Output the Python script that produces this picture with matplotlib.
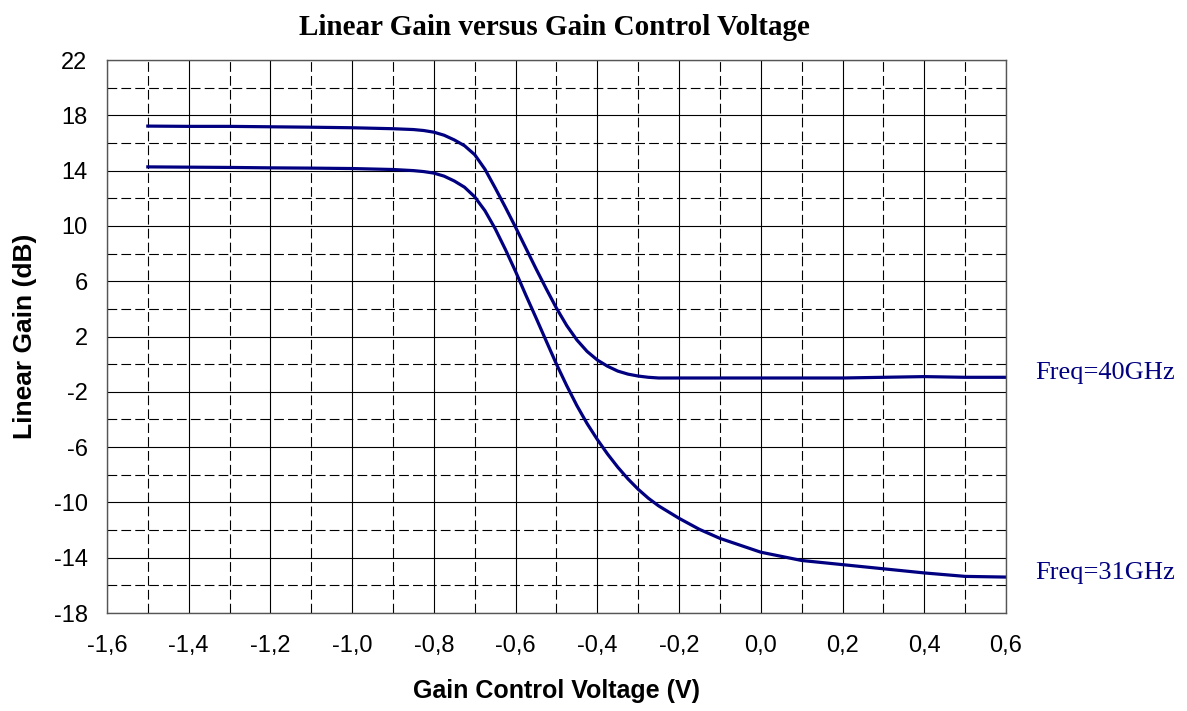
import matplotlib
matplotlib.use("Agg")
import matplotlib.pyplot as plt
from matplotlib.ticker import FixedLocator, MultipleLocator, FuncFormatter

# gain control voltage (V)
volts = [-1.5, -1.4, -1.3, -1.2, -1.1, -1.0, -0.9, -0.85, -0.825, -0.8, -0.775, -0.75,
         -0.725, -0.7, -0.675, -0.65, -0.625, -0.6, -0.575, -0.55, -0.525, -0.5, -0.475,
         -0.45, -0.425, -0.4, -0.375, -0.35, -0.325, -0.3, -0.275, -0.25, -0.2, -0.15,
         -0.1, 0.0, 0.1, 0.2, 0.3, 0.4, 0.5, 0.6]
# linear gain (dB)
gain_40 = [17.22, 17.2, 17.2, 17.17, 17.14, 17.1, 17.03, 16.97, 16.9, 16.78, 16.56, 16.22,
           15.8, 15.15, 14.1, 12.75, 11.35, 9.9, 8.4, 6.9, 5.45, 4.05, 2.8,
           1.75, 0.92, 0.3, -0.15, -0.5, -0.72, -0.86, -0.95, -1.0, -1.0, -1.0,
           -1.0, -1.0, -1.0, -1.0, -0.95, -0.9, -0.95, -0.95]
gain_31 = [14.27, 14.25, 14.23, 14.2, 14.18, 14.15, 14.08, 14.0, 13.93, 13.82, 13.6, 13.25,
           12.8, 12.1, 11.1, 9.8, 8.3, 6.7, 5.0, 3.35, 1.67, 0.0, -1.55,
           -3.0, -4.3, -5.45, -6.5, -7.45, -8.3, -9.05, -9.7, -10.25, -11.15, -11.95,
           -12.6, -13.6, -14.2, -14.5, -14.8, -15.1, -15.35, -15.4]
labels = ["Freq=40GHz", "Freq=31GHz"]

plt.rcParams['lines.scale_dashes'] = False

fig = plt.figure(figsize=(11.87, 7.11), dpi=100)
ax = fig.add_axes([0.0901, 0.1378, 0.7574, 0.7778])

ax.set_xlim(-1.6, 0.6)
ax.set_ylim(-18, 22)
ax.xaxis.set_major_locator(MultipleLocator(0.2))
ax.xaxis.set_minor_locator(MultipleLocator(0.1))
ax.yaxis.set_major_locator(FixedLocator(list(range(-18, 23, 4))))
ax.yaxis.set_minor_locator(FixedLocator(list(range(-16, 21, 4))))
ax.xaxis.set_major_formatter(FuncFormatter(lambda v, p: f"{v:.1f}".replace(".", ",")))
ax.yaxis.set_major_formatter(FuncFormatter(lambda v, p: f"{v:.0f}"))

ax.grid(True, which='major', color='black', linewidth=0.8, linestyle='-')
ax.grid(True, which='minor', color='black', linewidth=0.8, linestyle=(0, (7, 3)))
ax.set_axisbelow(True)
ax.tick_params(which='both', length=0, labelsize=17)
ax.tick_params(axis='x', pad=16)
ax.tick_params(axis='y', pad=14)
for s in ax.spines.values():
    s.set_color('#555555')
    s.set_linewidth(1.0)

ax.plot(volts, gain_40, color='#000080', linewidth=2.3)
ax.plot(volts, gain_31, color='#000080', linewidth=2.3)

for lab, g in zip(labels, [gain_40, gain_31]):
    ax.text(0.671, g[-1] + 0.3, lab, color='#000080', fontsize=19,
            family='Liberation Serif', va='center', ha='left', clip_on=False)

ax.set_xlabel("Gain Control Voltage (V)", fontsize=18, fontweight='bold',
              family='Liberation Sans', labelpad=16)
ax.set_ylabel("Linear Gain (dB)", fontsize=19, fontweight='bold',
              family='Liberation Sans', labelpad=12)
for t in ax.get_xticklabels() + ax.get_yticklabels():
    t.set_family('Liberation Sans')

fig.suptitle("Linear Gain versus Gain Control Voltage", x=0.467, y=0.98,
             fontsize=21, fontweight='bold', family='Liberation Serif')

fig.savefig("out.png", dpi=100)
